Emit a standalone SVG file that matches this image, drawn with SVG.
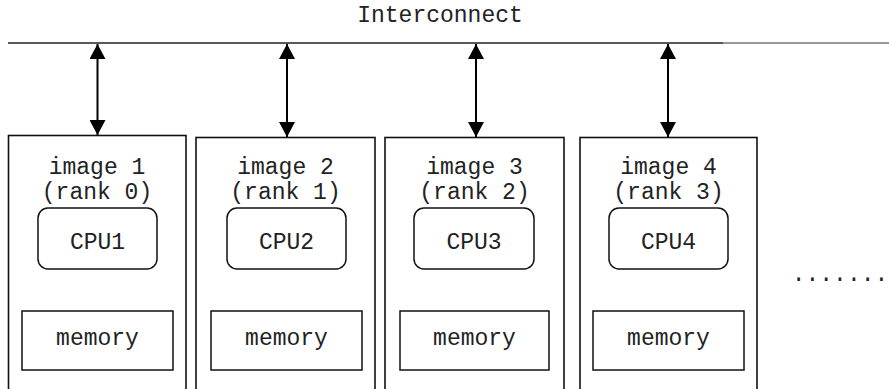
<svg xmlns="http://www.w3.org/2000/svg" width="889" height="389" viewBox="0 0 889 389">
<style>
text{font-family:"Liberation Mono","Courier New",monospace;font-size:23px;fill:#222;text-anchor:middle}
.box{fill:none;stroke:#111;stroke-width:1.6}
.cpu{fill:none;stroke:#111;stroke-width:1.5}
.mem{fill:none;stroke:#111;stroke-width:1.5}
.conn{stroke:#000;stroke-width:2;fill:none;marker-start:url(#ah);marker-end:url(#ah)}
</style>
<defs>
<marker id="ah" markerUnits="userSpaceOnUse" viewBox="0 0 15 16" refX="15" refY="8" markerWidth="15" markerHeight="16" orient="auto-start-reverse">
<path d="M0,0 L15,8 L0,16 z" fill="#000"/>
</marker>
</defs>
<rect width="889" height="389" fill="#fff"/>
<g id="interconnect">
<text x="440" y="22">Interconnect</text>
<line x1="8" y1="43" x2="723" y2="43" stroke="#5a5560" stroke-width="2"/>
<line x1="723" y1="43" x2="889" y2="43" stroke="#999" stroke-width="2"/>
</g>
<g id="connectors">
<line class="conn" x1="97.5" y1="44" x2="97.5" y2="135"/>
<line class="conn" x1="287" y1="44" x2="287" y2="137"/>
<line class="conn" x1="476" y1="44" x2="476" y2="137"/>
<line class="conn" x1="668" y1="44" x2="668" y2="137"/>
</g>
<g id="image1">
<rect class="box" x="8.5" y="135.5" width="177.5" height="260"/>
<text x="97" y="174">image 1</text>
<text x="97" y="199">(rank 0)</text>
<rect class="cpu" x="38" y="208" width="119" height="61" rx="10"/>
<text x="97.5" y="249">CPU1</text>
<rect class="mem" x="22" y="311" width="151" height="59"/>
<text x="97.5" y="345">memory</text>
</g>
<g id="image2">
<rect class="box" x="196" y="137.5" width="179" height="260"/>
<text x="285.5" y="174">image 2</text>
<text x="285.5" y="199">(rank 1)</text>
<rect class="cpu" x="227" y="208" width="119" height="61" rx="10"/>
<text x="286.5" y="249">CPU2</text>
<rect class="mem" x="211" y="311" width="151" height="59"/>
<text x="286.5" y="345">memory</text>
</g>
<g id="image3">
<rect class="box" x="385" y="137.5" width="179" height="260"/>
<text x="474.5" y="174">image 3</text>
<text x="474.5" y="199">(rank 2)</text>
<rect class="cpu" x="414" y="208" width="120" height="61" rx="10"/>
<text x="474" y="249">CPU3</text>
<rect class="mem" x="400" y="311" width="149" height="59"/>
<text x="474.5" y="345">memory</text>
</g>
<g id="image4">
<rect class="box" x="580" y="137.5" width="177" height="260"/>
<text x="668.5" y="174">image 4</text>
<text x="668.5" y="199">(rank 3)</text>
<rect class="cpu" x="609" y="208" width="119" height="61" rx="10"/>
<text x="668.5" y="249">CPU4</text>
<rect class="mem" x="593" y="311" width="151" height="59"/>
<text x="668.5" y="345">memory</text>
</g>
<g id="more">
<text x="840" y="281">.......</text>
</g>
</svg>
